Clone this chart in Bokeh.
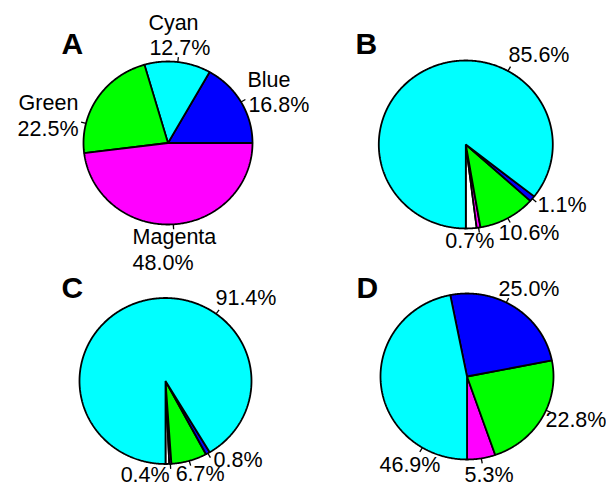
import numpy as np
from bokeh.plotting import figure
from bokeh.models import Range1d, ColumnDataSource
from bokeh.core.properties import value
from bokeh.embed import file_html
from bokeh.resources import INLINE

# ---------------- data ----------------
slice_colors = {"Blue": "#0000FF", "Cyan": "#00FFFF", "Green": "#00FF00",
                "Magenta": "#FF00FF", "Other": "#FFFFFF"}

a_categories = ["Blue", "Cyan", "Green", "Magenta"]
a_values = [16.8, 12.7, 22.5, 48.0]

b_categories = ["Other", "Magenta", "Green", "Blue", "Cyan"]
b_values = [2.0, 0.7, 10.6, 1.1, 85.6]

c_categories = ["Other", "Magenta", "Green", "Blue", "Cyan"]
c_values = [0.7, 0.4, 6.7, 0.8, 91.4]

d_categories = ["Magenta", "Green", "Blue", "Cyan"]
d_values = [5.3, 22.8, 25.0, 46.9]

panel_letters = ["A", "B", "C", "D"]

# ---------------- layout (positions / styles) ----------------
# labels: category -> (tick angle override in degrees or None,
#                      offset of percent text (left, baseline) from tick end,
#                      offset of name text from tick end or None)
panels = [
    dict(cats=a_categories, vals=a_values, start=0.0, center=(167.5, 142.5),
         rx=84.5, ry=81.5, letter_pos=(61, 53),
         labels={"Blue": (None, (3, 13), (2, -12)),
                 "Cyan": (None, (-29, -2.5), (-30, -27.5)),
                 "Green": (166.0, (-63.5, 13.5), (-62.5, -12.5)),
                 "Magenta": (None, (-41, 40.5), (-41, 14.5))}),
    dict(cats=b_categories, vals=b_values, start=-90.0, center=(465.3, 144.0),
         rx=87.0, ry=84.0, letter_pos=(355, 53),
         labels={"Magenta": (None, (-34, 16), None),
                 "Green": (None, (-11.7, 18), None),
                 "Blue": (None, (1.2, 10.6), None),
                 "Cyan": (61.0, (-2, -4.2), None)}),
    dict(cats=c_categories, vals=c_values, start=-90.0, center=(165.0, 380.5),
         rx=86.0, ry=83.0, letter_pos=(61, 297),
         labels={"Magenta": (None, (-50, 13.0), None),
                 "Green": (None, (-15, 16.0), None),
                 "Blue": (None, (3.1, 9.9), None),
                 "Cyan": (54.0, (-3.6, -4.3), None)}),
    dict(cats=d_categories, vals=d_values, start=-90.0, center=(466.5, 376.0),
         rx=86.5, ry=83.0, letter_pos=(356, 297),
         labels={"Magenta": (None, (-17.7, 18.5), None),
                 "Green": (-24.0, (-5.3, 15.2), None),
                 "Blue": (63.0, (-10.1, -1.6), None),
                 "Cyan": (239.0, (-40.3, 20.6), None)}),
]

LABEL_SIZE = 21.5
LETTER_SIZE = 30.0
BASELINE_FIX = 0.33   # renderer draws alphabetic text about a third of an em low

W, H = 606, 487
p = figure(width=W, height=H, x_range=Range1d(0, W), y_range=Range1d(H, 0),
           output_backend="svg", toolbar_location=None, min_border=0,
           x_axis_location=None, y_axis_location=None, outline_line_color=None,
           background_fill_color="white", border_fill_color="white")
p.xgrid.visible = False
p.ygrid.visible = False

xs, ys, fills = [], [], []
tx0, ty0, tx1, ty1 = [], [], [], []
pct_x, pct_y, pct_t = [], [], []
name_x, name_y, name_t = [], [], []
let_x, let_y = [], []

for panel, letter in zip(panels, panel_letters):
    cx, cy = panel["center"]
    rx, ry = panel["rx"], panel["ry"]
    total = sum(panel["vals"])
    angle = panel["start"]
    for cat, v in zip(panel["cats"], panel["vals"]):
        span = 360.0 * v / total
        a0, a1 = angle, angle + span
        angle = a1
        n = max(3, int(span * 2) + 2)
        th = np.radians(np.linspace(a0, a1, n))
        px = np.concatenate([[cx], cx + rx * np.cos(th)])
        py = np.concatenate([[cy], cy - ry * np.sin(th)])
        xs.append(list(px))
        ys.append(list(py))
        fills.append(slice_colors[cat])
        if cat in panel["labels"]:
            over, poff, noff = panel["labels"][cat]
            tang = np.radians(over if over is not None else (a0 + a1) / 2.0)
            x0 = cx + rx * np.cos(tang)
            y0 = cy - ry * np.sin(tang)
            x1 = cx + 1.06 * rx * np.cos(tang)
            y1 = cy - 1.06 * ry * np.sin(tang)
            tx0.append(x0); ty0.append(y0); tx1.append(x1); ty1.append(y1)
            pct_x.append(x1 + poff[0])
            pct_y.append(y1 + poff[1] - BASELINE_FIX * LABEL_SIZE)
            pct_t.append(f"{v:.1f}%")
            if noff is not None:
                name_x.append(x1 + noff[0])
                name_y.append(y1 + noff[1] - BASELINE_FIX * LABEL_SIZE)
                name_t.append(cat)
    let_x.append(panel["letter_pos"][0])
    let_y.append(panel["letter_pos"][1] - BASELINE_FIX * LETTER_SIZE)

p.patches(xs="xs", ys="ys", fill_color="fill", line_color="black", line_width=1.8,
          source=ColumnDataSource(dict(xs=xs, ys=ys, fill=fills)))
p.segment(x0=tx0, y0=ty0, x1=tx1, y1=ty1, line_color="black", line_width=1.3)

font = value("Liberation Sans")
p.text(x=pct_x, y=pct_y, text=pct_t, text_font=font,
       text_font_size=value(f"{LABEL_SIZE}px"),
       text_align="left", text_baseline="alphabetic", text_color="black")
p.text(x=name_x, y=name_y, text=name_t, text_font=font,
       text_font_size=value(f"{LABEL_SIZE}px"),
       text_align="left", text_baseline="alphabetic", text_color="black")
p.text(x=let_x, y=let_y, text=panel_letters, text_font=font,
       text_font_size=value(f"{LETTER_SIZE}px"),
       text_font_style="bold", text_align="left", text_baseline="alphabetic",
       text_color="black")

open("out.html", "w").write(file_html(p, INLINE))
